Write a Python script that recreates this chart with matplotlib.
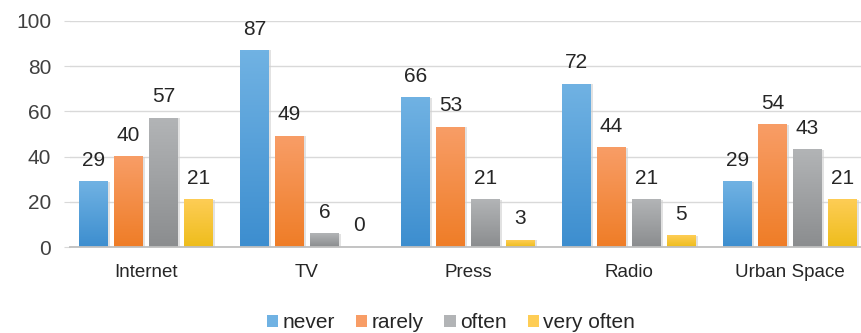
import matplotlib.pyplot as plt
import matplotlib.colors as mcolors
from matplotlib.patches import Patch
import numpy as np

plt.rcParams['font.family'] = ['Liberation Sans', 'DejaVu Sans']

categories = ['Internet', 'TV', 'Press', 'Radio', 'Urban Space']
series = ['never', 'rarely', 'often', 'very often']
never = [29, 87, 66, 72, 29]
rarely = [40, 49, 53, 44, 54]
often = [57, 6, 21, 21, 43]
very_often = [21, 0, 3, 5, 21]
values = [never, rarely, often, very_often]

# top colour, bottom colour for the gradient
colors = [('#70b2e3', '#3d8ecf'),
          ('#f89d66', '#ef7d27'),
          ('#b2b4b6', '#8b8d8f'),
          ('#fecd55', '#eebd1c')]

fig = plt.figure(figsize=(8.61, 3.33), dpi=100)
ax = fig.add_axes([70 / 861, 0.258, 791 / 861, 0.679])

x = np.arange(len(categories))
width = 0.18
step = 0.217
grad = np.linspace(1, 0, 64).reshape(-1, 1)

for i, vals in enumerate(values):
    pos = x + (i - 1.5) * step
    bars = ax.bar(pos, vals, width, color='none', zorder=2)
    cmap = mcolors.LinearSegmentedColormap.from_list('g', [colors[i][1], colors[i][0]])
    for b, v in zip(bars, vals):
        if v <= 0:
            continue
        x0, y0 = b.get_x(), b.get_y()
        w, h = b.get_width(), b.get_height()
        ax.imshow(grad, cmap=cmap, aspect='auto', extent=[x0, x0 + w, y0, y0 + h],
                  zorder=2, interpolation='bicubic')
        # light shadow on the right
        ax.fill_between([x0 + w, x0 + w + 0.012], 0, h, color='#d0d0d0', alpha=0.6, zorder=1, lw=0)
    for p, v in zip(pos, vals):
        ax.text(p, v + 7, str(v), ha='center', va='baseline', fontsize=15, color='#262626')

ax.set_xlim(-0.472, 4.441)
ax.set_ylim(0, 100)
ax.set_yticks(range(0, 101, 20))
ax.set_xticks(x)
ax.set_xticklabels(categories, fontsize=13.5, color='#262626')
ax.tick_params(axis='y', labelsize=15, labelcolor='#404040', length=4.5, color='#d9d9d9', pad=9)
ax.tick_params(axis='x', length=0, pad=12)
ax.grid(axis='y', color='#d9d9d9', lw=1, zorder=0)
ax.set_axisbelow(True)
for s in ['top', 'right', 'left']:
    ax.spines[s].set_visible(False)
ax.spines['bottom'].set_color('#bfbfbf')
ax.spines['bottom'].set_linewidth(1.3)

handles = [Patch(facecolor=colors[i][0], edgecolor='none') for i in range(4)]
fig.legend(handles, series, loc='center', bbox_to_anchor=(451 / 861, 1 - 323 / 333), ncol=4,
           frameon=False, fontsize=15, handlelength=0.55, handleheight=0.55,
           handletextpad=0.2, columnspacing=1.0, labelcolor='#262626',
           borderpad=0, borderaxespad=0)

fig.savefig('out.png', dpi=100)
